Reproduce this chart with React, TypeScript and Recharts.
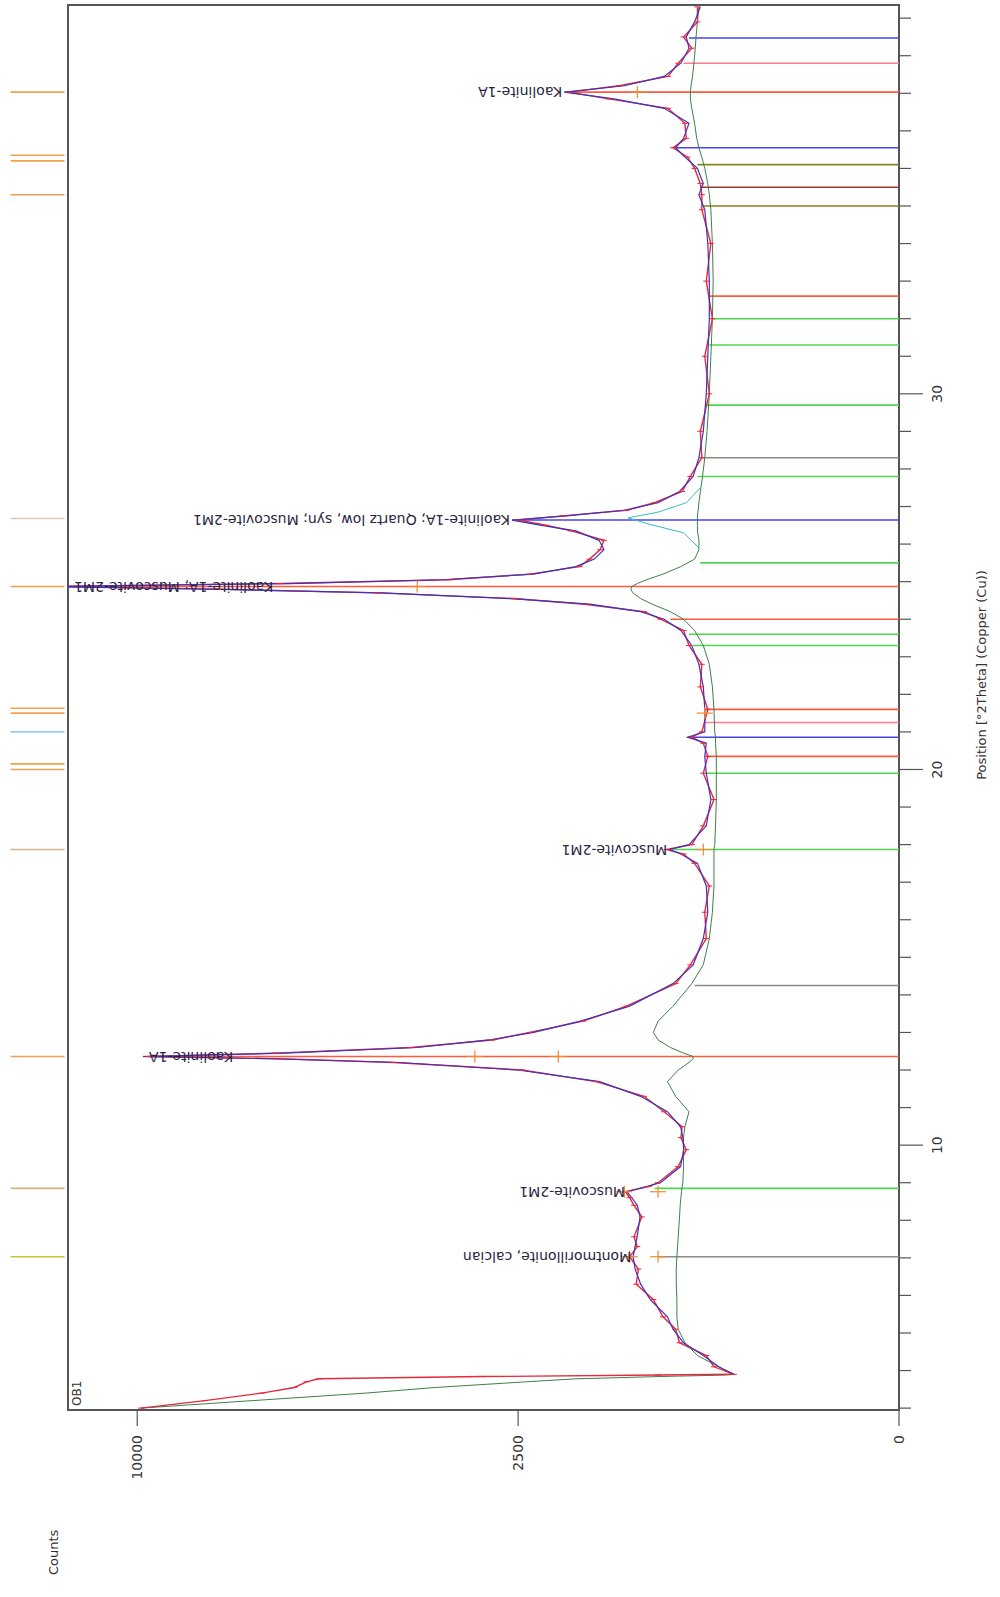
import React from 'react';
import { ComposedChart, Line, XAxis, YAxis, ReferenceLine, ReferenceArea, Scatter } from 'recharts';

// chart is drawn landscape and then turned 90deg counter-clockwise
const W = 1597;
const H = 1000;
const X_MIN = 2.95;
const X_MAX = 40.35;
const Y_MAX = 11900;
const STRIP_LO = 12000;
const STRIP_HI = 13600;

const THETA = [
  3.0, 3.2, 3.4, 3.55, 3.7, 3.78, 3.84, 3.88, 3.9, 4.1, 4.4, 4.74, 5.1, 5.43, 5.89, 6.3, 6.7, 7.03, 7.3, 7.56,
  8.09, 8.4, 8.6, 8.76, 8.9, 9.0, 9.43, 9.88, 10.2, 10.49, 10.89, 11.3, 11.69, 12.0, 12.2, 12.3, 12.36, 12.45, 12.6, 12.8,
  13.0, 13.3, 13.7, 14.3, 14.8, 15.5, 16.2, 16.9, 17.5, 17.75, 17.87, 18.0, 18.5, 19.2, 19.9, 20.35, 20.7, 20.86, 21.0, 21.6,
  22.2, 22.8, 23.3, 23.7, 24.0, 24.2, 24.4, 24.55, 24.7, 24.8, 24.87, 24.95, 25.05, 25.2, 25.4, 25.6, 25.85, 26.1, 26.35, 26.5,
  26.64, 26.75, 26.9, 27.1, 27.4, 27.8, 28.3, 29.0, 30.0, 31.0, 32.0, 33.0, 34.0, 34.9, 35.3, 35.6, 36.0, 36.3, 36.55, 36.8,
  37.2, 37.6, 37.85, 38.03, 38.2, 38.45, 38.8, 39.2, 39.5, 39.9, 40.3,
];
const CALC = [
  null, null, null, null, null, null, null, 470, 470, 560, 660, 800, 880, 924, 1066, 1150, 1200, 1218, 1200, 1182,
  1155, 1180, 1230, 1275, 1100, 981, 822, 799, 805, 822, 924, 1150, 1544, 2500, 4300, 6800, 9850, 6500, 4000, 2900,
  2300, 1750, 1250, 880, 730, 660, 630, 640, 700, 820, 910, 760, 640, 610, 640, 650, 640, 770, 650, 650,
  660, 690, 740, 820, 950, 1150, 1650, 2600, 4600, 8200, 12600, 6400, 3600, 2300, 1800, 1600, 1500, 1550, 1800, 2200,
  2580, 1900, 1300, 1000, 830, 730, 690, 660, 640, 630, 620, 620, 630, 650, 690, 660, 700, 790, 860, 800,
  760, 950, 1400, 1930, 1300, 950, 820, 760, 780, 720, 680,
];
const OBS = [
  9900, 8300, 7000, 6300, 6050, 5800, 3000, 1000, 470, 590, 640, 830, 860, 960, 1040, 1190, 1170, 1250, 1180, 1210,
  1140, 1210, 1250, 1290, 1080, 1000, 840, 780, 820, 810, 950, 1120, 1580, 2450, 4400, 6600, 9700, 6700, 4100, 2850,
  2350, 1720, 1280, 860, 750, 640, 650, 620, 720, 800, 930, 740, 660, 590, 660, 630, 660, 740, 670, 630,
  680, 670, 760, 800, 980, 1120, 1700, 2550, 4700, 8000, 12600, 6600, 3500, 2350, 1760, 1650, 1540, 1500, 1850, 2150,
  2500, 1950, 1280, 1030, 810, 750, 670, 680, 620, 650, 600, 640, 610, 670, 670, 680, 720, 770, 880, 780,
  790, 920, 1450, 1880, 1350, 920, 840, 740, 800, 700, 700,
];
const BKG = [
  9900, 7200, 4900, 3700, 2400, 1800, 1000, 520, 470, 560, 700, 790, 840, 850, 850, 855, 855, 850, 845, 840,
  830, 825, 820, 815, 810, 805, 800, 800, 800, 790, 760, 860, 924, 840, 760, 730, 730, 800, 900, 1000,
  1040, 1000, 880, 740, 660, 620, 600, 590, 590, 590, 590, 585, 580, 575, 575, 575, 580, 580, 585, 590,
  600, 620, 660, 720, 800, 900, 1050, 1150, 1220, 1240, 1230, 1180, 1100, 960, 820, 720, 690, 690, 700, 700,
  700, 700, 695, 690, 680, 665, 650, 635, 620, 610, 600, 595, 600, 610, 620, 630, 650, 670, 690, 705,
  720, 740, 750, 750, 745, 735, 725, 715, 710, 700, 690,
];

const QUARTZ_THETA = [25.9, 26.3, 26.55, 26.7, 26.85, 27.1, 27.5];
const QUARTZ_CALC = [690, 800, 1100, 1265, 1000, 780, 680];

// reference pattern sticks: position, height, phase
const STICK_THETA = [7.03, 8.85, 12.36, 14.25, 17.87, 19.9, 20.35, 20.86, 21.25, 21.6, 23.3, 23.6, 24.0, 24.87, 25.5,
  26.64, 27.8, 28.3, 29.7, 31.3, 32.0, 32.6, 35.0, 35.5, 36.1, 36.55, 38.03, 38.8, 39.47];
const STICK_TOP = [1000, 1030, 9850, 720, 910, 640, 640, 770, 650, 650, 730, 760, 900, 11900, 680,
  2580, 700, 680, 640, 620, 610, 620, 660, 680, 700, 860, 1930, 800, 760];
const STICK_PHASE = ['S', 'M', 'K', 'S', 'M', 'M', 'K', 'Q', 'P', 'K', 'M', 'M', 'K', 'K', 'M',
  'Q', 'M', 'S', 'M', 'M', 'M', 'K', 'O', 'D', 'O', 'Q', 'K', 'P', 'Q'];

// identified peak list strip above the plot
const STRIP_THETA = [7.03, 8.85, 12.36, 17.87, 20.0, 20.15, 21.0, 21.5, 21.63, 24.87, 26.68, 35.3, 36.2, 36.35, 38.03];
const STRIP_KIND = ['y', 't', 'o', 't', 'o', 'o', 'c', 'o', 'o', 'o', 'b', 'o', 'o', 'o', 'o'];

// peak position markers
const MARK_THETA = [7.03, 7.03, 8.76, 8.76, 12.36, 12.36, 17.87, 21.5, 24.87, 38.03];
const MARK_COUNTS = [1000, 1250, 1000, 1300, 2000, 3100, 660, 650, 4000, 1180];

// labelled peaks; PEAK_INSIDE marks labels that hang below the apex
const PEAK_THETA = [7.03, 8.76, 12.36, 17.87, 24.87, 26.64, 38.03];
const PEAK_COUNTS = [1218, 1275, 9850, 910, 11900, 2580, 1930];
const PEAK_INSIDE = [false, false, true, false, true, false, false];
const PEAK_TEXT = [
  'Montmorillonite, calcian',
  'Muscovite-2M1',
  'Kaolinite-1A',
  'Muscovite-2M1',
  'Kaolinite-1A; Muscovite-2M1',
  'Kaolinite-1A; Quartz low, syn; Muscovite-2M1',
  'Kaolinite-1A',
];

const X_TICKS = [3, 4, 5, 6, 7, 8, 9, 10, 11, 12, 13, 14, 15, 16, 17, 18, 19, 20, 21, 22, 23, 24, 25, 26, 27, 28, 29,
  30, 31, 32, 33, 34, 35, 36, 37, 38, 39, 40];
const X_LABELS = [10, 20, 30];
const Y_TICKS = [0, 2500, 10000];

const PHASE_COLOR: Record<string, string> = {
  K: '#ff5a3c',
  P: '#ff7d8c',
  Q: '#4646e6',
  M: '#4cd84c',
  S: '#8a8a8a',
  O: '#86861c',
  D: '#a83232',
};
const STRIP_COLOR: Record<string, string> = {
  o: '#f2a24e',
  t: '#d6b486',
  y: '#c9c232',
  b: '#dccbb0',
  c: '#8fd3f0',
};

const FONT = '"DejaVu Sans", Verdana, sans-serif';

const toXY = (xs: number[], ys: (number | null)[]) => xs.map((x, i) => ({ x, y: ys[i] }));

function ThetaTick(props: any) {
  const { x, y, payload } = props;
  const major = X_LABELS.includes(payload.value);
  return (
    <g>
      <line x1={x} y1={y} x2={x} y2={y + (major ? 24 : 12)} stroke="#555" strokeWidth={1.2} />
      {major && (
        <text x={x} y={y + 38} textAnchor="middle" dominantBaseline="central" fontSize={14} fill="#333" fontFamily={FONT}>
          {payload.value}
        </text>
      )}
    </g>
  );
}

function PeakLabel(props: any) {
  const { cx, cy, payload } = props;
  if (cx == null || cy == null) return null;
  const inside = payload.inside;
  return (
    <text
      x={inside ? cx - 6 : cx + 2}
      y={cy}
      transform={`rotate(-90 ${cx} ${cy})`}
      textAnchor={inside ? 'end' : 'start'}
      dominantBaseline="central"
      fontSize={14}
      fill="#2a2440"
      fontFamily={FONT}
    >
      {payload.label}
    </text>
  );
}

function Cross(props: any) {
  const { cx, cy } = props;
  if (cx == null || cy == null) return null;
  return (
    <g stroke="#f08a30" strokeWidth={1.2}>
      <line x1={cx - 6} y1={cy} x2={cx + 6} y2={cy} />
      <line x1={cx} y1={cy - 8} x2={cx} y2={cy + 8} />
    </g>
  );
}

function ObsDot(props: any) {
  const { cx, cy } = props;
  if (cx == null || cy == null) return null;
  return <line x1={cx} y1={cy - 3} x2={cx} y2={cy + 3} stroke="#e8283c" strokeWidth={1} />;
}

export default function App() {
  const obsData = toXY(THETA, OBS);
  const calcData = toXY(THETA, CALC);
  const bkgData = toXY(THETA, BKG);
  const quartzData = toXY(QUARTZ_THETA, QUARTZ_CALC);
  const markData = toXY(MARK_THETA, MARK_COUNTS);
  const peakData = PEAK_THETA.map((x, i) => ({ x, y: PEAK_COUNTS[i], label: PEAK_TEXT[i], inside: PEAK_INSIDE[i] }));

  return (
    <div style={{ position: 'absolute', left: 0, top: 0, width: 1000, height: 1597, overflow: 'hidden', background: '#fff' }}>
      <div
        style={{
          position: 'absolute',
          left: 0,
          top: 0,
          width: W,
          height: H,
          transformOrigin: '0 0',
          transform: `translate(0px, ${W}px) rotate(-90deg)`,
        }}
      >
        <ComposedChart width={W} height={H} margin={{ top: 68, right: 5, bottom: 61, left: 127 }}>
          <XAxis
            type="number"
            dataKey="x"
            domain={[X_MIN, X_MAX]}
            allowDataOverflow
            ticks={X_TICKS}
            interval={0}
            tick={<ThetaTick />}
            tickLine={false}
            tickSize={0}
            tickMargin={0}
            axisLine={false}
            height={40}
          />
          <YAxis
            type="number"
            dataKey="y"
            scale="sqrt"
            domain={[0, Y_MAX]}
            allowDataOverflow
            ticks={Y_TICKS}
            interval={0}
            width={60}
            tickSize={16}
            tickMargin={9}
            tickLine={{ stroke: '#555', strokeWidth: 1.2 }}
            axisLine={false}
            tick={{ fill: '#333', fontSize: 14, fontFamily: FONT }}
          />
          {STICK_THETA.map((t, i) => (
            <ReferenceLine
              key={`s${i}`}
              segment={[{ x: t, y: 0 }, { x: t, y: STICK_TOP[i] }]}
              stroke={PHASE_COLOR[STICK_PHASE[i]]}
              strokeWidth={1.6}
              ifOverflow="hidden"
            />
          ))}
          {STRIP_THETA.map((t, i) => (
            <ReferenceLine
              key={`p${i}`}
              segment={[{ x: t, y: STRIP_LO }, { x: t, y: STRIP_HI }]}
              stroke={STRIP_COLOR[STRIP_KIND[i]]}
              strokeWidth={1.6}
              ifOverflow="visible"
            />
          ))}
          <Line data={bkgData} dataKey="y" stroke="#3f7f4a" strokeWidth={1} dot={false} isAnimationActive={false} />
          <Line data={quartzData} dataKey="y" stroke="#3cb8c8" strokeWidth={1} dot={false} isAnimationActive={false} />
          <Line data={obsData} dataKey="y" stroke="#e8283c" strokeWidth={1.4} dot={<ObsDot />} isAnimationActive={false} />
          <Line data={calcData} dataKey="y" stroke="#3a34c0" strokeWidth={1.2} dot={false} isAnimationActive={false} />
          <Scatter data={markData} dataKey="y" shape={<Cross />} isAnimationActive={false} />
          <Scatter data={peakData} dataKey="y" shape={<PeakLabel />} isAnimationActive={false} />
          <ReferenceArea x1={X_MIN} x2={X_MAX} y1={0} y2={Y_MAX} fill="none" stroke="#555" strokeWidth={2} />
        </ComposedChart>
        <div style={{ position: 'absolute', left: 22, top: 46, fontSize: 13, color: '#333', fontFamily: FONT }}>Counts</div>
        <div style={{ position: 'absolute', left: 191, top: 70, fontSize: 12, color: '#333', fontFamily: FONT }}>OB1</div>
        <div
          style={{
            position: 'absolute',
            left: 772,
            width: 300,
            top: 974,
            textAlign: 'center',
            fontSize: 13,
            color: '#333',
            fontFamily: FONT,
          }}
        >
          Position [°2Theta] (Copper (Cu))
        </div>
      </div>
    </div>
  );
}
